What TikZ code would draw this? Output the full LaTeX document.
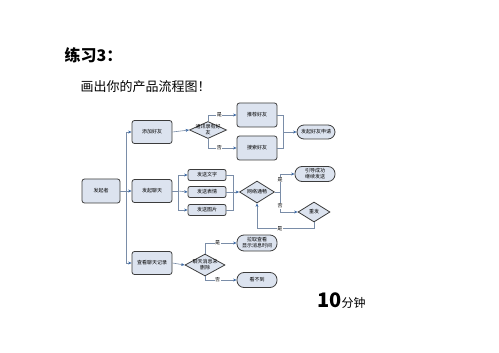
\documentclass[tikz,border=0pt]{standalone}
\usepackage{fontspec}
\setmainfont{Noto Sans CJK SC}
\usetikzlibrary{shapes.geometric,arrows.meta}
\definecolor{boxfill}{HTML}{DCE3EF}
\definecolor{boxline}{HTML}{3C3C3C}
\definecolor{flowline}{HTML}{7A8DA8}
\definecolor{tipcol}{HTML}{3E6BA6}
\tikzset{
	box/.style = {draw = boxline, fill = boxfill, rounded corners = 2.5pt, line width = 0.8pt,
		minimum width = 40pt, minimum height = 23pt, inner sep = 0pt, align = center,
		font = \fontsize{5}{6}\selectfont},
	sendbox/.style = {box, minimum width = 38pt, minimum height = 11pt, rounded corners = 2pt},
	term/.style = {box, rounded corners = 7pt, minimum height = 15pt},
	decision/.style = {diamond, draw = boxline, fill = boxfill, line width = 0.8pt, inner sep = 0pt},
	dtext/.style = {font = \fontsize{5}{6}\selectfont, align = center, inner sep = 0pt},
	yesno/.style = {font = \fontsize{5}{6}\selectfont, fill = white, inner sep = 0.5pt},
	link/.style = {draw = flowline, line width = 0.6pt},
	arr/.style = {link, -{Stealth[length = 3.5pt, width = 3pt, color = tipcol]}}
}
\begin{document}
\begin{tikzpicture}[x = 1pt, y = -1pt]
	\useasboundingbox (0,0) rectangle (499,353);
	% headings
	\node [anchor = west, font = \fontsize{16}{18}\selectfont\bfseries] (title) at (61,55) {练习3：};
	\node [anchor = west, font = \fontsize{13}{15}\selectfont] (task) at (77,87) {画出你的产品流程图！};
	\node [anchor = base west, inner sep = 0pt] (time) at (317,307) {\fontsize{20}{22}\selectfont\bfseries 10\fontsize{12}{14}\selectfont\mdseries 分钟};
	% nodes
	\node [box, minimum width = 38pt, minimum height = 24pt] (fqz) at (101,191) {发起者};
	\node [box] (tjhy) at (152,132) {添加好友};
	\node [box] (fqlt) at (152,191) {发起聊天};
	\node [box] (ckjl) at (152,263) {查看聊天记录};
	\node [decision, minimum width = 37pt, minimum height = 17pt, label = {[dtext]center:通讯录有好\\友}] (txl) at (208,130) {};
	\node [box, minimum height = 24pt] (tjian) at (257,115) {推荐好友};
	\node [box, minimum height = 24pt] (ssuo) at (257,148) {搜索好友};
	\node [term, minimum width = 38pt, minimum height = 14pt] (sqing) at (316,132) {发起好友申请};
	\node [sendbox] (wz) at (207,175) {发送文字};
	\node [sendbox] (bq) at (207,192) {发送表情};
	\node [sendbox] (tp) at (207,210) {发送图片};
	\node [decision, minimum width = 35pt, minimum height = 22pt, label = {[dtext]center:网络通畅}] (wl) at (257,192) {};
	\node [term] (yd) at (315,174) {引导成功\\继续发送};
	\node [decision, minimum width = 32pt, minimum height = 20pt, label = {[dtext]center:重发}] (cf) at (314,212) {};
	\node [decision, minimum width = 40pt, minimum height = 22pt, label = {[dtext]center:聊天消息未\\删除}] (sc) at (205,265) {};
	\node [term, minimum height = 16pt] (lq) at (257,243) {拉取查看\\显示消息时间};
	\node [term] (kbd) at (257,280) {看不到};
	% joints
	\coordinate (t0) at (126,191);
	\coordinate (j1) at (283,132);
	\coordinate (s0) at (178,191);
	\coordinate (s1) at (233,192);
	\coordinate (n1) at (280,192);
	% connectors
	\draw [link] (fqz.east) -- (t0);
	\draw [arr] (t0) |- (tjhy.west);
	\draw [arr] (t0) -- (fqlt.west);
	\draw [arr] (t0) |- (ckjl.west);
	\draw [arr] (tjhy.east) -- (txl.west);
	\draw [arr] (txl.north) |- node [yesno, pos = 0.7] {是} (tjian.west);
	\draw [arr] (txl.south) |- node [yesno, pos = 0.7] {否} (ssuo.west);
	\draw [link] (tjian.east) -| (j1);
	\draw [link] (ssuo.east) -| (j1);
	\draw [arr] (j1) -- (sqing.west);
	\draw [link] (fqlt.east) -- (s0);
	\draw [arr] (s0) |- (wz.west);
	\draw [arr] (s0) -- (bq.west);
	\draw [arr] (s0) |- (tp.west);
	\draw [link] (wz.east) -| (s1);
	\draw [link] (tp.east) -| (s1);
	\draw [link] (bq.east) -- (s1);
	\draw [arr] (s1) -- (wl.west);
	\draw [link] (wl.east) -- (n1);
	\draw [arr] (n1) |- node [yesno, pos = 0.35] {是} (yd.west);
	\draw [arr] (n1) |- node [yesno, pos = 0.35] {否} (cf.west);
	\draw [arr] (cf.south) -- ++(0,6) -| node [yesno, pos = 0.3] {是} (wl.south);
	\draw [arr] (ckjl.east) -- (sc.west);
	\draw [arr] (sc.north) |- node [yesno, pos = 0.7] {是} (lq.west);
	\draw [arr] (sc.south) |- node [yesno, pos = 0.7] {否} (kbd.west);
\end{tikzpicture}
\end{document}
